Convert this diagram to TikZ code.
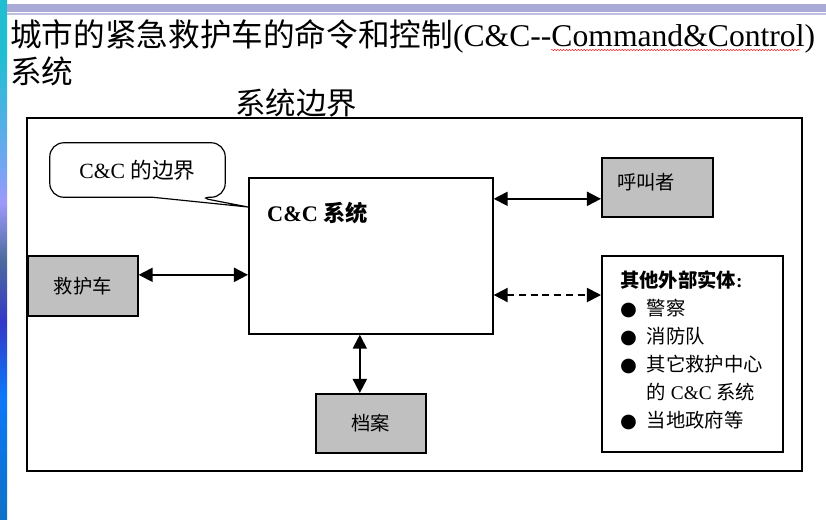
\documentclass[tikz,border=0pt]{standalone}
\usepackage{fontspec}
\setmainfont{Liberation Serif}
\newfontfamily\cjk{Noto Sans CJK SC}
\newfontfamily\sym{DejaVu Sans}
\usetikzlibrary{arrows.meta,calc,decorations.pathmorphing}
\def\px{0.03cm}
\def\tip{Triangle[length=12pt,width=12pt]}
\def\bul{{\sym ●}\hspace{0.5em}}
\definecolor{boxgray}{RGB}{192,192,192}
\definecolor{barlav}{RGB}{170,170,216}
\pgfdeclareverticalshading{sidebar}{100bp}{rgb(0bp)=(0.05,0.45,0.78); rgb(25bp)=(0.05,0.45,0.78); rgb(37bp)=(0.05,0.47,0.98); rgb(44bp)=(0.2,0.22,0.78); rgb(50bp)=(0.3,0.42,0.62); rgb(55.5bp)=(0.62,0.6,0.98); rgb(59bp)=(0.45,0.65,0.95); rgb(70bp)=(0.12,0.75,0.82); rgb(75bp)=(0.12,0.75,0.82); rgb(100bp)=(0.12,0.75,0.82)}
\tikzset{
  box/.style={draw, line width=1.4pt, inner sep=0pt, anchor=north west},
  graybox/.style={box, fill=boxgray},
  biarr/.style={{\tip}-{\tip}, line width=1.6pt},
  txt/.style={font=\fontsize{16.5}{24}\selectfont}
}

\begin{document}
\begin{tikzpicture}[x=\px, y=-\px]
\useasboundingbox (0,0) rectangle (826,519);
\shade[shading=sidebar] (0,0) rectangle (7,519);
\fill[barlav] (7,4) rectangle (826,12);
\fill[barlav!75] (7,13) rectangle (826,15);

\node[anchor=base west, inner sep=0pt, font=\fontsize{27}{32}\selectfont] (title) at (10,46) {{\cjk 城市的紧急救护车的命令和控制}(C\&C-{}-Command\&Control)};
\node[anchor=base west, inner sep=0pt, font=\fontsize{27}{32}\selectfont] (title2) at (10,83) {\cjk 系统};
\draw[red, line width=0.4pt, decorate, decoration={snake, amplitude=0.5pt, segment length=2.5pt}] (551,50) -- (800,50);
\node[anchor=base west, inner sep=0pt, font=\fontsize{26}{30}\selectfont] (bound) at (235,114) {\cjk 系统边界};

\draw[line width=1.4pt] (27,118) rectangle (802,471);

\node[box, minimum width=244*\px, minimum height=156*\px] (sys) at (248,177) {};
\node[anchor=west, inner sep=0pt, font=\fontsize{19}{22}\selectfont\bfseries] (systxt) at ($(sys.north west)+(19,36)$) {C\&C {\cjk 系统}};

\node[graybox, minimum width=111*\px, minimum height=59*\px] (caller) at (601,157) {};
\node[txt, anchor=west, inner sep=0pt] (callertxt) at ($(caller.west)+(16,-5)$) {\cjk 呼叫者};

\node[graybox, txt, minimum width=110*\px, minimum height=60*\px] (amb) at (27,255) {\cjk 救护车};
\node[graybox, txt, minimum width=110*\px, minimum height=59*\px] (archive) at (315,393) {\cjk 档案};

\node[box, minimum width=181*\px, minimum height=196*\px] (others) at (601,255) {};
\node[txt, anchor=north west, align=left, inner sep=0pt] (otherstxt) at ($(others.north west)+(19,15)$) {{\cjk\bfseries 其他外部实体}\textbf{:}\\
\bul{\cjk 警察}\\
\bul{\cjk 消防队}\\
\bul{\cjk 其它救护中心}\\
\phantom{\bul}{\cjk 的} C\&C {\cjk 系统}\\
\bul{\cjk 当地政府等}};

\node[inner sep=0pt, font=\fontsize{18.5}{22}\selectfont, minimum width=175*\px, minimum height=54*\px] (bubble) at (137.5,170) {C\&C {\cjk 的边界}};
\coordinate (b1) at ($(bubble.south)+(15,0)$);
\coordinate (b2) at ($(bubble.south)+(60,0)$);
\draw[line width=1pt, rounded corners=14*\px] (b1) -- (bubble.south west) -- (bubble.north west) -- (bubble.north east) -- (bubble.south east) -- (b2) [sharp corners] -- ($(sys.north west)+(0,30)$) -- cycle;

\coordinate (cc) at ($(caller.west)+(0,11.5)$);
\coordinate (ca) at ($(amb.east)+(0,-11)$);
\coordinate (co) at ($(others.north west)+(0,40)$);
\coordinate (cr) at ($(archive.north)+(-11,0)$);
\draw[biarr] (sys.east |- cc) -- (cc);
\draw[biarr] (ca) -- (sys.west |- ca);
\draw[biarr, dash pattern=on 6pt off 4pt] (sys.east |- co) -- (co);
\draw[biarr] (sys.south -| cr) -- (cr);
\end{tikzpicture}
\end{document}
